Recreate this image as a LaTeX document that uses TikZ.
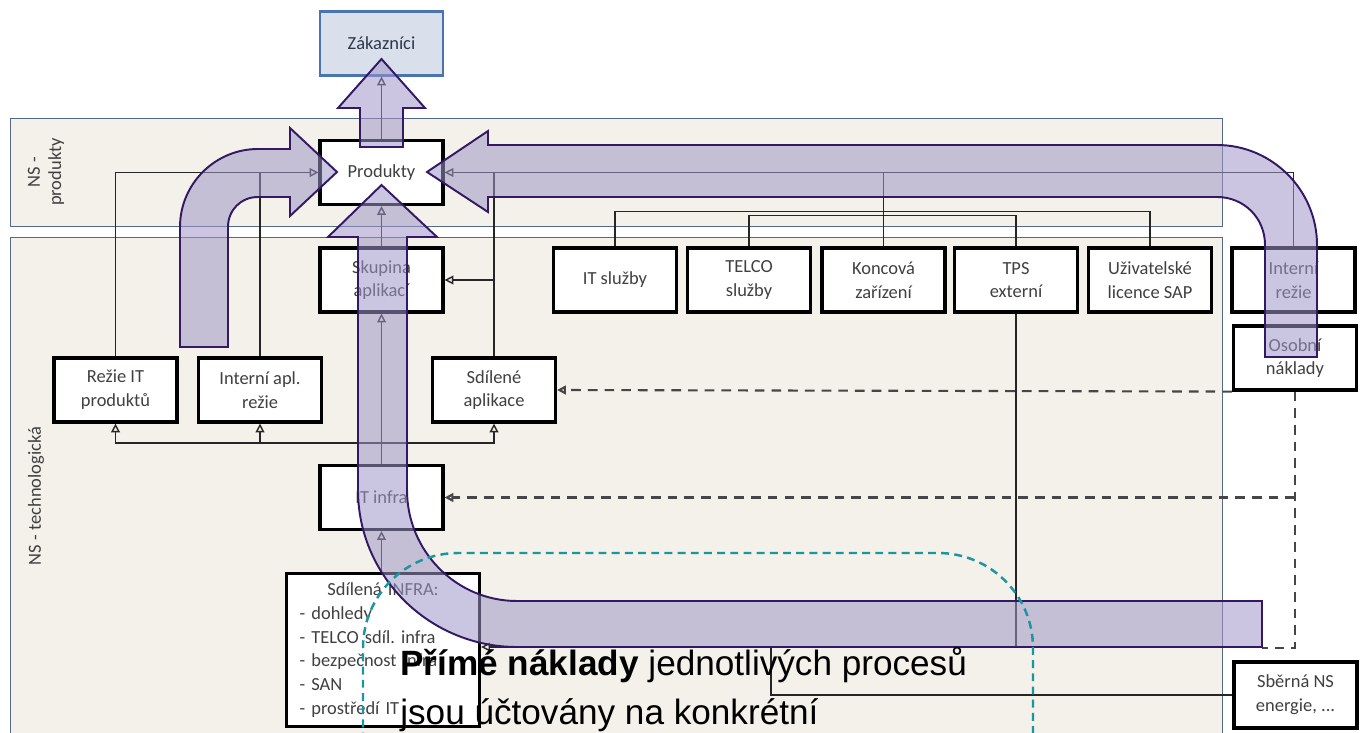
\documentclass[tikz,border=0pt]{standalone}
\usepackage{fontspec}
\setmainfont{Carlito}
\newfontfamily\arialfont{Liberation Sans}
\usetikzlibrary{arrows.meta,positioning,calc}
\frenchspacing

\definecolor{bandfill}{RGB}{243,241,233}
\definecolor{bandline}{RGB}{85,105,135}
\definecolor{flowfill}{RGB}{160,150,200}
\definecolor{flowline}{RGB}{50,25,100}
\definecolor{custline}{RGB}{74,116,176}
\definecolor{custfill}{RGB}{217,224,236}
\definecolor{boxtext}{RGB}{64,64,64}
\definecolor{dashgray}{RGB}{70,70,70}
\definecolor{procteal}{RGB}{25,150,160}

\tikzset{
box/.style = {draw=black, fill=white, rectangle, line width=1.8pt, align=center, minimum width=24.6mm, minimum height=12.8mm, text=boxtext, font=\fontsize{10.5}{13.5}\selectfont},
custbox/.style = {box, draw=custline, fill=custfill, line width=1.2pt, text={rgb,255:red,45;green,55;blue,70}},
band/.style = {draw=bandline, fill=bandfill, line width=0.5pt},
conn/.style = {draw=black!85, line width=0.8pt, -{Triangle[open,length=5pt,width=5pt]}},
link/.style = {draw=black!85, line width=0.8pt},
dashconn/.style = {draw=dashgray, line width=1.2pt, dash pattern=on 5.5pt off 4pt, -{Triangle[open,length=5pt,width=5pt]}},
dashlink/.style = {draw=dashgray, line width=1.2pt, dash pattern=on 5.5pt off 4pt},
flow/.style = {draw=flowline, fill=flowfill, fill opacity=0.55, line width=1.1pt},
bandlabel/.style = {rotate=90, align=center, text=boxtext, font=\fontsize{10.5}{12}\selectfont},
bigtext/.style = {anchor=base west, inner sep=0pt, font=\arialfont\fontsize{20}{28}\selectfont},
}

\begin{document}
\begin{tikzpicture}[x=0.2mm, y=-0.2mm]
        \useasboundingbox (0,0) rectangle (1360,733);
        \clip (0,0) rectangle (1360,733);

        % bands
        \draw[band] (10,118) rectangle (1222,226);
        \draw[band] (10,237) rectangle (1222,760);
        \node[bandlabel] (nsprod) at (46,172) {NS -\\produkty};
        \node[bandlabel] (nstech) at (36,496) {NS - technologická};

        % top
        \node[custbox] (zakaznici) at (381.5,43.5) {Zákazníci};
        \node[box] (produkty) at (381.5,172.5) {Produkty};
        \node[box] (skupina) at (381.5,280) {Skupina\\aplikací};

        % services row
        \node[box] (itsluzby) at (615,280) {IT služby};
        \node[box] (telco) at (749,280) {TELCO\\služby};
        \node[box] (koncova) at (883.5,280) {Koncová\\zařízení};
        \node[box] (tps) at (1016,280) {TPS\\externí};
        \node[box] (licence) at (1150,280) {Uživatelské\\licence SAP};
        \node[box] (interni) at (1293.5,280) {Interní\\režie};
        \node[box] (osobni) at (1295,358) {Osobní\\náklady};

        % middle
        \node[box] (rezieit) at (115.5,390) {Režie IT\\produktů};
        \node[box] (interniapl) at (260,390) {Interní apl.\\režie};
        \node[box] (sdilene) at (494,390) {Sdílené\\aplikace};
        \node[box] (itinfra) at (381.5,497.5) {IT infra};

        % bottom
        \node[box, anchor=north west, minimum width=38.6mm, minimum height=30.6mm, text width=33.4mm, align=left, inner xsep=2.6mm] (sdilinfra) at (285,572)
            {\makebox[33.4mm]{Sdílená INFRA:}\\- dohledy\\- TELCO sdíl. infra\\- bezpečnost infra\\- SAN\\- prostředí IT};
        \node[box, minimum height=13.2mm] (sberna) at (1295.5,695) {Sběrná NS\\energie, ...};

        \coordinate (fork) at (381.5,443);
        \coordinate (tpsjoin) at (1016,647);
        \coordinate (sbjoin) at (771,647);
        \coordinate (barend) at (1262,648);

        % connectors
        \draw[conn] (produkty.north) -- (zakaznici.south);
        \draw[conn] (skupina.north) -- (produkty.south);
        \draw[conn] (itinfra.north) -- (skupina.south);
        \draw[conn] (sdilinfra.north -| itinfra.south) -- (itinfra.south);
        \draw[conn] (fork) -| (rezieit.south);
        \draw[conn] (fork) -| (interniapl.south);
        \draw[conn] (fork) -| (sdilene.south);
        \draw[conn] (rezieit.north) |- (produkty.west);
        \draw[link] (interniapl.north) -- (interniapl.north |- produkty.west);
        \draw[conn] (interni.north) |- (produkty.east);
        \draw[link] (koncova.north) -- (koncova.north |- produkty.east);
        \draw[link] (sdilene.north) -- (sdilene.north |- produkty.east);
        \draw[conn] (sdilene.north |- skupina.east) -- (skupina.east);
        \draw[link] (itsluzby.north) -- ++(0,-35) -| (licence.north);
        \draw[link] (telco.north) -- ++(0,-31) -| (tps.north);
        \draw[conn] (tps.south) -- (tpsjoin) -- (sdilinfra.east |- tpsjoin);
        \draw[link] (sberna.west) -| (sbjoin);

        % dashed
        \draw[dashconn] (osobni.south west) -- (sdilene.east);
        \draw[dashconn] (osobni.south |- itinfra.east) -- (itinfra.east);
        \draw[dashlink] (osobni.south) -- (osobni.south |- barend) -- (barend);

        % flows
        \draw[flow] (360,147) -- (360,108) -- (338,108) -- (381.5,59) -- (425,108) -- (403,108) -- (403,147) -- cycle;
        \draw[flow] (180,347) -- (180,227) .. controls (180,184) and (215,149) .. (258,149) -- (290,149) -- (290,128) -- (337,172) -- (290,216) -- (290,197) -- (258,197) .. controls (241,197) and (228,210) .. (228,227) -- (228,347) -- cycle;
        \draw[flow] (1265,357) -- (1265,245) .. controls (1265,218) and (1244,197) .. (1217,197) -- (488,197) -- (488,212) -- (427,172) -- (488,131) -- (488,145) -- (1217,145) .. controls (1272,145) and (1317,190) .. (1317,245) -- (1317,357) -- cycle;
        \draw[flow] (1262,601) -- (517,601) .. controls (456,601) and (407,551) .. (407,490) -- (407,237) -- (437,237) -- (381.5,185) -- (328,237) -- (358,237) -- (358,490) .. controls (358,577) and (430,647) .. (517,647) -- (1262,647) -- cycle;

        % process area
        \draw[procteal, line width=1.4pt, dash pattern=on 4.5pt off 3pt, rounded corners=19mm] (363,780) -- (363,553) -- (1033,553) -- (1033,780);
        \node[bigtext] (primetext) at (400,675) {\textbf{Přímé náklady} jednotlivých procesů};
        \node[bigtext] (primetextb) at (400,724) {jsou účtovány na konkrétní};
\end{tikzpicture}
\end{document}
